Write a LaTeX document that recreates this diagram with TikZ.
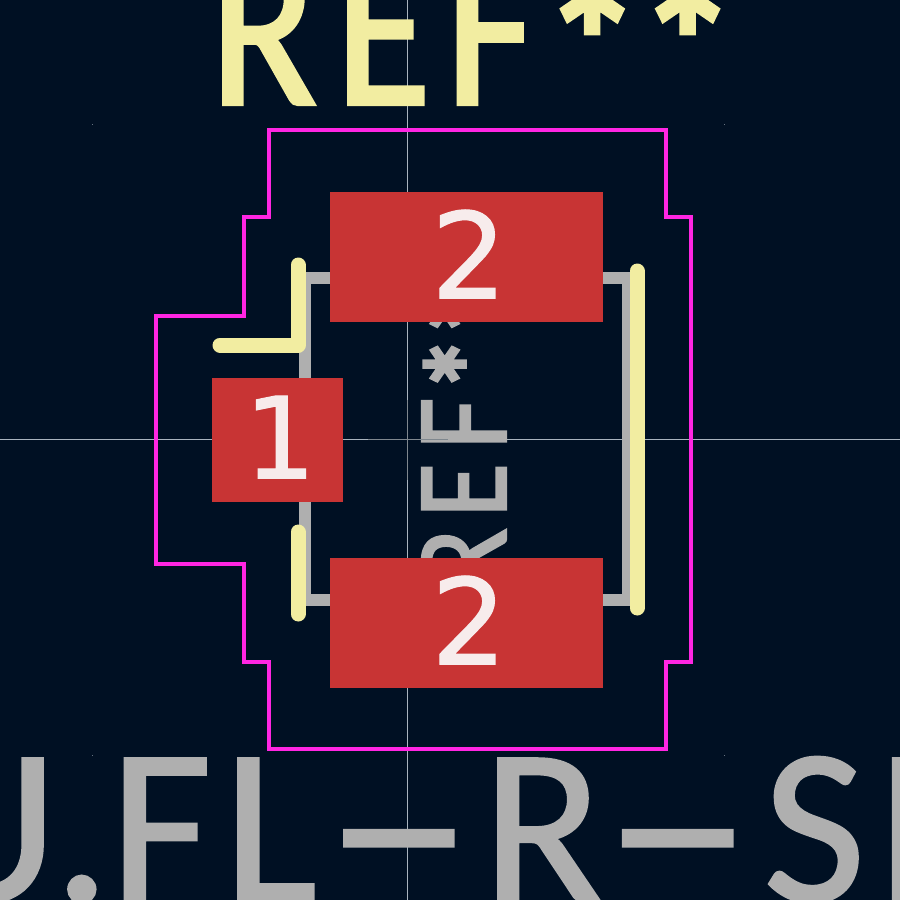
\documentclass[tikz,border=0pt]{standalone}
\usepackage{fontspec}
\usepackage{tikz}
\usetikzlibrary{calc}
\setmainfont{DejaVu Sans}
\newfontfamily\padfont{DejaVu Sans}[FakeBold=1]
\newfontfamily\strokefont{Carlito}[FakeBold=1.2]
\newfontfamily\narrowfont{Carlito}[FakeBold=1.8, FakeStretch=0.85]
\newfontfamily\starfont{Carlito}[FakeBold=3.5, FakeStretch=0.85]
\definecolor{boardbg}{HTML}{001023}
\definecolor{silkcol}{HTML}{F2EDA1}
\definecolor{fabcol}{HTML}{AFAFAF}
\definecolor{courtcol}{HTML}{FF26E2}
\definecolor{padcol}{HTML}{C83434}
\definecolor{padtxt}{HTML}{F7ECEC}
\definecolor{axiscol}{HTML}{A9B4BE}
\newcommand{\widedash}{\scalebox{2.05}[1]{-}}
\newcommand{\starmark}{\raisebox{-0.09em}{\starfont *}}
\newcommand{\padnum}[1]{\kern5pt\raisebox{6pt}{\padfont #1}}
\tikzset{
  silkline/.style={draw=silkcol, line width=15pt, line cap=round, line join=round},
  fabline/.style={draw=fabcol, line width=11.5pt, line join=miter},
  courtline/.style={draw=courtcol, line width=4.8pt, line cap=round, line join=miter},
  axisline/.style={draw=axiscol, line width=0.8pt},
  originline/.style={draw=black!25!axiscol, line width=0.8pt},
  padbox/.style={fill=padcol, text=padtxt, inner sep=0pt, font=\fontsize{119}{119}\selectfont},
  bigtext/.style={inner sep=0pt, anchor=base west, font=\narrowfont\fontsize{230}{230}\selectfont},
  valuetext/.style={inner sep=0pt, anchor=base west, font=\strokefont\fontsize{222}{222}\selectfont},
  fabtext/.style={inner sep=0pt, anchor=base west, text=fabcol, font=\narrowfont\fontsize{131}{131}\selectfont},
}
\begin{document}
\begin{tikzpicture}[x=1pt, y=-1pt]
  \useasboundingbox (0,0) rectangle (900,900);
  \clip (0,0) rectangle (900,900);
  \fill[boardbg] (0,0) rectangle (900,900);
  % axes through the origin
  \draw[axisline] (407.5,0) -- (407.5,900);
  \draw[axisline] (0,439.5) -- (900,439.5);
  % grid marks
  \foreach \px/\py in {92/124, 724/124, 92/755, 724/755}
    \fill[axiscol!60!boardbg] (\px-0.5,\py-0.5) rectangle (\px+0.5,\py+0.5);
  % texts
  \node[bigtext, text=silkcol] (refTop) at (210,104) {R\kern19pt E\kern15pt F\kern8pt\starmark\kern-2pt\starmark};
  \node[valuetext, text=fabcol] (valueBottom) at (-85,901) {U.F\kern12pt L\kern12pt\widedash\kern14pt R\kern5pt\widedash\kern16pt S\kern10pt MT};
  \node[fabtext, rotate=90] (refFab) at (506,589) {R\kern11pt E\kern14pt F\kern6pt\starmark\kern-1pt\starmark};
  % fab outline
  \draw[fabline] (330,278) -- (305,278) -- (305,600) -- (330,600);
  \draw[fabline] (603,278) -- (628,278) -- (628,600) -- (603,600);
  % origin mark
  \draw[originline] (368,439.5) -- (448,439.5);
  \draw[originline] (407.5,400) -- (407.5,480);
  % courtyard
  \draw[courtline] (269,130) -- (666,130) -- (666,217) -- (691,217) -- (691,662)
    -- (666,662) -- (666,749) -- (269,749) -- (269,662) -- (244,662) -- (244,564)
    -- (156,564) -- (156,316) -- (244,316) -- (244,217) -- (269,217) -- cycle;
  % silk
  \draw[silkline] (298,265) -- (298,345) -- (220,345);
  \draw[silkline] (298,532) -- (298,614);
  \draw[silkline] (637,271) -- (637,608);
  % pads
  \node[padbox, minimum width=273pt, minimum height=130pt] (padTop) at (466.5,257) {\padnum{2}};
  \node[padbox, minimum width=273pt, minimum height=130pt] (padBottom) at (466.5,623) {\padnum{2}};
  \node[padbox, minimum width=131pt, minimum height=124pt, font=\fontsize{113}{113}\selectfont] (padOne) at (277.5,440) {\padnum{1}};
\end{tikzpicture}
\end{document}
